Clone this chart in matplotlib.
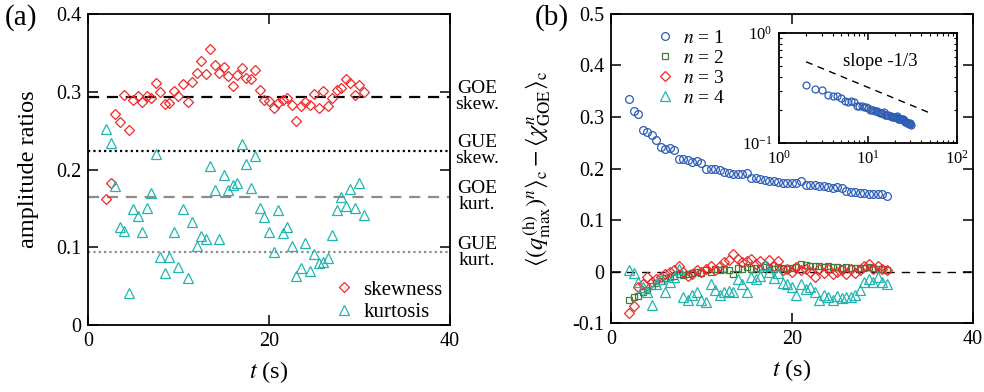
import matplotlib
matplotlib.use("Agg")
import matplotlib.pyplot as plt
from matplotlib.ticker import NullFormatter
import numpy as np

plt.rcParams["font.family"] = ["Liberation Serif", "DejaVu Serif"]
plt.rcParams["mathtext.fontset"] = "stix"

# ---------------------------------------------------------------------------
# Data
# ---------------------------------------------------------------------------
t = [2.0, 2.5, 3.0, 3.5, 4.0, 4.5, 5.0, 5.5, 6.0, 6.5,
     7.0, 7.5, 8.0, 8.5, 9.0, 9.5, 10.0, 10.5, 11.0, 11.5,
     12.0, 12.5, 13.0, 13.5, 14.0, 14.5, 15.0, 15.5, 16.0, 16.5,
     17.0, 17.5, 18.0, 18.5, 19.0, 19.5, 20.0, 20.5, 21.0, 21.5,
     22.0, 22.5, 23.0, 23.5, 24.0, 24.5, 25.0, 25.5, 26.0, 26.5,
     27.0, 27.5, 28.0, 28.5, 29.0, 29.5, 30.0, 30.5]

skewness = [0.162, 0.183, 0.272, 0.261, 0.296, 0.251, 0.289, 0.294, 0.287, 0.294,
            0.292, 0.311, 0.300, 0.284, 0.286, 0.301, 0.294, 0.310, 0.287, 0.312,
            0.324, 0.339, 0.323, 0.355, 0.334, 0.324, 0.332, 0.320, 0.307, 0.322,
            0.330, 0.318, 0.316, 0.328, 0.302, 0.289, 0.288, 0.279, 0.285, 0.289,
            0.292, 0.283, 0.263, 0.282, 0.287, 0.283, 0.297, 0.279, 0.301, 0.282,
            0.292, 0.302, 0.305, 0.316, 0.311, 0.296, 0.309, 0.300]

kurtosis = [0.252, 0.234, 0.179, 0.126, 0.121, 0.041, 0.149, 0.140, 0.119, 0.150,
            0.170, 0.220, 0.088, 0.067, 0.088, 0.120, 0.075, 0.149, 0.061, 0.132,
            0.102, 0.114, 0.111, 0.204, 0.173, 0.111, 0.193, 0.173, 0.180, 0.182,
            0.233, 0.207, 0.176, 0.218, 0.151, 0.139, 0.119, 0.094, 0.148, 0.118,
            0.126, 0.101, 0.063, 0.073, 0.106, 0.070, 0.091, 0.080, 0.081, 0.086,
            0.116, 0.148, 0.164, 0.153, 0.175, 0.151, 0.182, 0.142]

# Random-matrix reference values for the amplitude ratios
GOE_SKEW, GUE_SKEW = 0.2935, 0.2241
GOE_KURT, GUE_KURT = 0.1652, 0.0934

# Cumulant differences <(q_max)^n>_c - <chi_GOE^n>_c
diff_n1 = [0.334, 0.311, 0.305, 0.275, 0.270, 0.266, 0.255, 0.242, 0.237, 0.239,
           0.236, 0.218, 0.218, 0.216, 0.212, 0.214, 0.210, 0.200, 0.200, 0.200,
           0.197, 0.194, 0.192, 0.189, 0.189, 0.189, 0.192, 0.181, 0.181, 0.179,
           0.178, 0.176, 0.175, 0.173, 0.172, 0.172, 0.172, 0.172, 0.175, 0.168,
           0.167, 0.167, 0.166, 0.166, 0.165, 0.163, 0.164, 0.163, 0.156, 0.155,
           0.154, 0.153, 0.153, 0.151, 0.150, 0.150, 0.151, 0.147]

diff_n2 = [-0.055, -0.050, -0.048, -0.040, -0.035, -0.028, -0.022, -0.018, -0.012, -0.010,
           -0.008, -0.005, -0.006, -0.004, -0.003, 0.000, -0.002, 0.002, 0.000, 0.004,
           0.003, 0.005, 0.002, -0.004, 0.006, 0.004, 0.008, 0.005, 0.007, 0.004,
           0.008, 0.006, 0.005, 0.008, 0.006, 0.004, 0.006, 0.008, 0.014, 0.012,
           0.010, 0.010, 0.011, 0.009, 0.010, 0.009, 0.008, 0.007, 0.008, 0.007,
           0.006, 0.006, 0.007, 0.008, 0.006, 0.005, 0.004, 0.003]

diff_n3 = [-0.080, -0.067, -0.030, -0.025, -0.010, -0.020, -0.015, -0.010, -0.005, 0.000,
           0.003, 0.010, 0.000, -0.008, -0.005, 0.002, 0.000, 0.005, 0.010, 0.003,
           0.010, 0.018, 0.022, 0.034, 0.025, 0.018, 0.020, 0.025, 0.015, 0.020,
           0.012, 0.022, 0.010, 0.020, 0.003, 0.005, 0.000, 0.008, 0.003, 0.005,
           0.000, -0.010, 0.005, -0.003, 0.005, -0.005, 0.000, 0.003, -0.005, 0.005,
           -0.003, 0.003, 0.010, 0.015, 0.005, 0.010, 0.005, 0.002]

diff_n4 = [0.002, -0.002, -0.020, -0.030, -0.040, -0.066, -0.025, -0.015, -0.040, -0.020,
           -0.010, 0.005, -0.050, -0.055, -0.045, -0.040, -0.055, -0.060, -0.025, -0.035,
           -0.045, -0.040, -0.038, -0.040, -0.015, -0.025, -0.040, -0.010, -0.015, -0.008,
           0.012, 0.000, -0.012, -0.002, -0.022, -0.025, -0.030, -0.045, -0.025, -0.033,
           -0.030, -0.040, -0.055, -0.045, -0.050, -0.055, -0.048, -0.052, -0.050, -0.050,
           -0.045, -0.035, -0.020, -0.015, -0.020, -0.010, -0.020, -0.025]

# slope -1/3 guide for the inset
guide_t = [2.0, 50.0]
guide_amp = 0.69

RED = "#ec2b2b"
CYAN = "#22b5b0"
BLUE = "#2d5db4"
GREEN = "#3e7d3e"
GRAY = "#8c8c8c"

TICK_FS = 14.5
LABEL_FS = 17.5


def style_axes(ax, fs=TICK_FS):
    ax.tick_params(direction="in", which="major", length=7, width=1.1,
                   top=True, right=True, labelsize=fs, pad=5)
    ax.tick_params(direction="in", which="minor", length=3.5, width=0.8,
                   top=True, right=True)
    for sp in ax.spines.values():
        sp.set_linewidth(1.3)


fig = plt.figure(figsize=(9.84, 3.92), dpi=100)

# ===========================================================================
# (a) amplitude ratios
# ===========================================================================
ax1 = fig.add_axes([0.0894, 0.1709, 0.3679, 0.7934])
style_axes(ax1)

ax1.axhline(GOE_SKEW, color="black", lw=1.6, ls=(0, (5, 3.5)), zorder=1)
ax1.axhline(GUE_SKEW, color="black", lw=1.6, ls=(0, (1, 1.4)), zorder=1)
ax1.axhline(GOE_KURT, color=GRAY, lw=1.6, ls=(0, (5, 3.5)), zorder=1)
ax1.axhline(GUE_KURT, color=GRAY, lw=1.6, ls=(0, (1, 1.4)), zorder=1)

ax1.plot(t, skewness, ls="none", marker="D", ms=5.4, mfc="none", mec=RED,
         mew=0.9, label="skewness")
ax1.plot(t, kurtosis, ls="none", marker="^", ms=7.2, mfc="none", mec=CYAN,
         mew=0.9, label="kurtosis")

for yv, txt in [(GOE_SKEW, "GOE\nskew."), (GUE_SKEW, "GUE\nskew."),
                (GOE_KURT, "GOE\nkurt."), (GUE_KURT, "GUE\nkurt.")]:
    ax1.text(1.075, yv, txt, transform=ax1.get_yaxis_transform(),
             ha="center", va="center", fontsize=14, linespacing=0.95,
             clip_on=False)

ax1.set_xlim(0, 40)
ax1.set_ylim(0, 0.4)
ax1.set_xticks([0, 20, 40])
ax1.set_yticks([0, 0.1, 0.2, 0.3, 0.4])
ax1.set_yticklabels(["0", "0.1", "0.2", "0.3", "0.4"])
ax1.set_xlabel(r"$t$ (s)", fontsize=LABEL_FS, labelpad=6)
ax1.set_ylabel("amplitude ratios", fontsize=LABEL_FS)
ax1.yaxis.set_label_coords(-0.135, 0.5)
ax1.legend(loc="lower right", bbox_to_anchor=(1.025, -0.045), frameon=False,
           fontsize=15, handlelength=1.0, handletextpad=0.4,
           labelspacing=0.15, borderpad=0.3)

fig.text(0.005, 0.955, "(a)", fontsize=21, ha="left", va="center")

# ===========================================================================
# (b) cumulant differences
# ===========================================================================
ax2 = fig.add_axes([0.6209, 0.176, 0.3679, 0.7883])
style_axes(ax2)

ax2.axhline(0, color="black", lw=1.0, ls=(0, (6, 5)), zorder=1)
ax2.plot(t, diff_n1, ls="none", marker="o", ms=5.6, mfc="none", mec=BLUE,
         mew=0.9, label=r"$n$ = 1")
ax2.plot(t, diff_n2, ls="none", marker="s", ms=5.0, mfc="none", mec=GREEN,
         mew=0.9, label=r"$n$ = 2")
ax2.plot(t, diff_n3, ls="none", marker="D", ms=5.4, mfc="none", mec=RED,
         mew=0.9, label=r"$n$ = 3")
ax2.plot(t, diff_n4, ls="none", marker="^", ms=7.2, mfc="none", mec=CYAN,
         mew=0.9, label=r"$n$ = 4")

ax2.set_xlim(0, 40)
ax2.set_ylim(-0.1, 0.5)
ax2.set_xticks([0, 20, 40])
ax2.set_yticks([-0.1, 0, 0.1, 0.2, 0.3, 0.4, 0.5])
ax2.set_yticklabels(["-0.1", "0", "0.1", "0.2", "0.3", "0.4", "0.5"])
ax2.set_xlabel(r"$t$ (s)", fontsize=LABEL_FS, labelpad=6)
ax2.set_ylabel(r"$\langle (q_{\max}^{(\mathrm{h})})^n \rangle_\mathrm{c}"
               r" - \langle \chi_\mathrm{GOE}^n \rangle_\mathrm{c}$",
               fontsize=LABEL_FS)
ax2.yaxis.set_label_coords(-0.16, 0.5)
ax2.legend(loc="upper left", bbox_to_anchor=(0.085, 1.0), frameon=False,
           fontsize=14, handlelength=0.8, handletextpad=0.5,
           labelspacing=0.12, borderpad=0.3)

fig.text(0.543, 0.955, "(b)", fontsize=21, ha="left", va="center")

# inset: n = 1 on log-log axes
axi = fig.add_axes([0.792, 0.6352, 0.1803, 0.2806])
style_axes(axi, fs=12)
axi.tick_params(which="major", length=5)
axi.tick_params(which="minor", length=2.5)
axi.set_xscale("log")
axi.set_yscale("log")
axi.plot(t, diff_n1, ls="none", marker="o", ms=5.0, mfc="none", mec=BLUE,
         mew=0.9)
gt = np.array(guide_t)
axi.plot(gt, guide_amp * gt ** (-1 / 3), color="black", lw=1.0,
         ls=(0, (5, 4)))
axi.text(0.36, 0.74, "slope -1/3", transform=axi.transAxes, fontsize=13.5,
         ha="left", va="center")
axi.set_xlim(1, 100)
axi.set_ylim(0.1, 1)
axi.xaxis.set_minor_formatter(NullFormatter())
axi.yaxis.set_minor_formatter(NullFormatter())

fig.savefig("out.png", dpi=100)
